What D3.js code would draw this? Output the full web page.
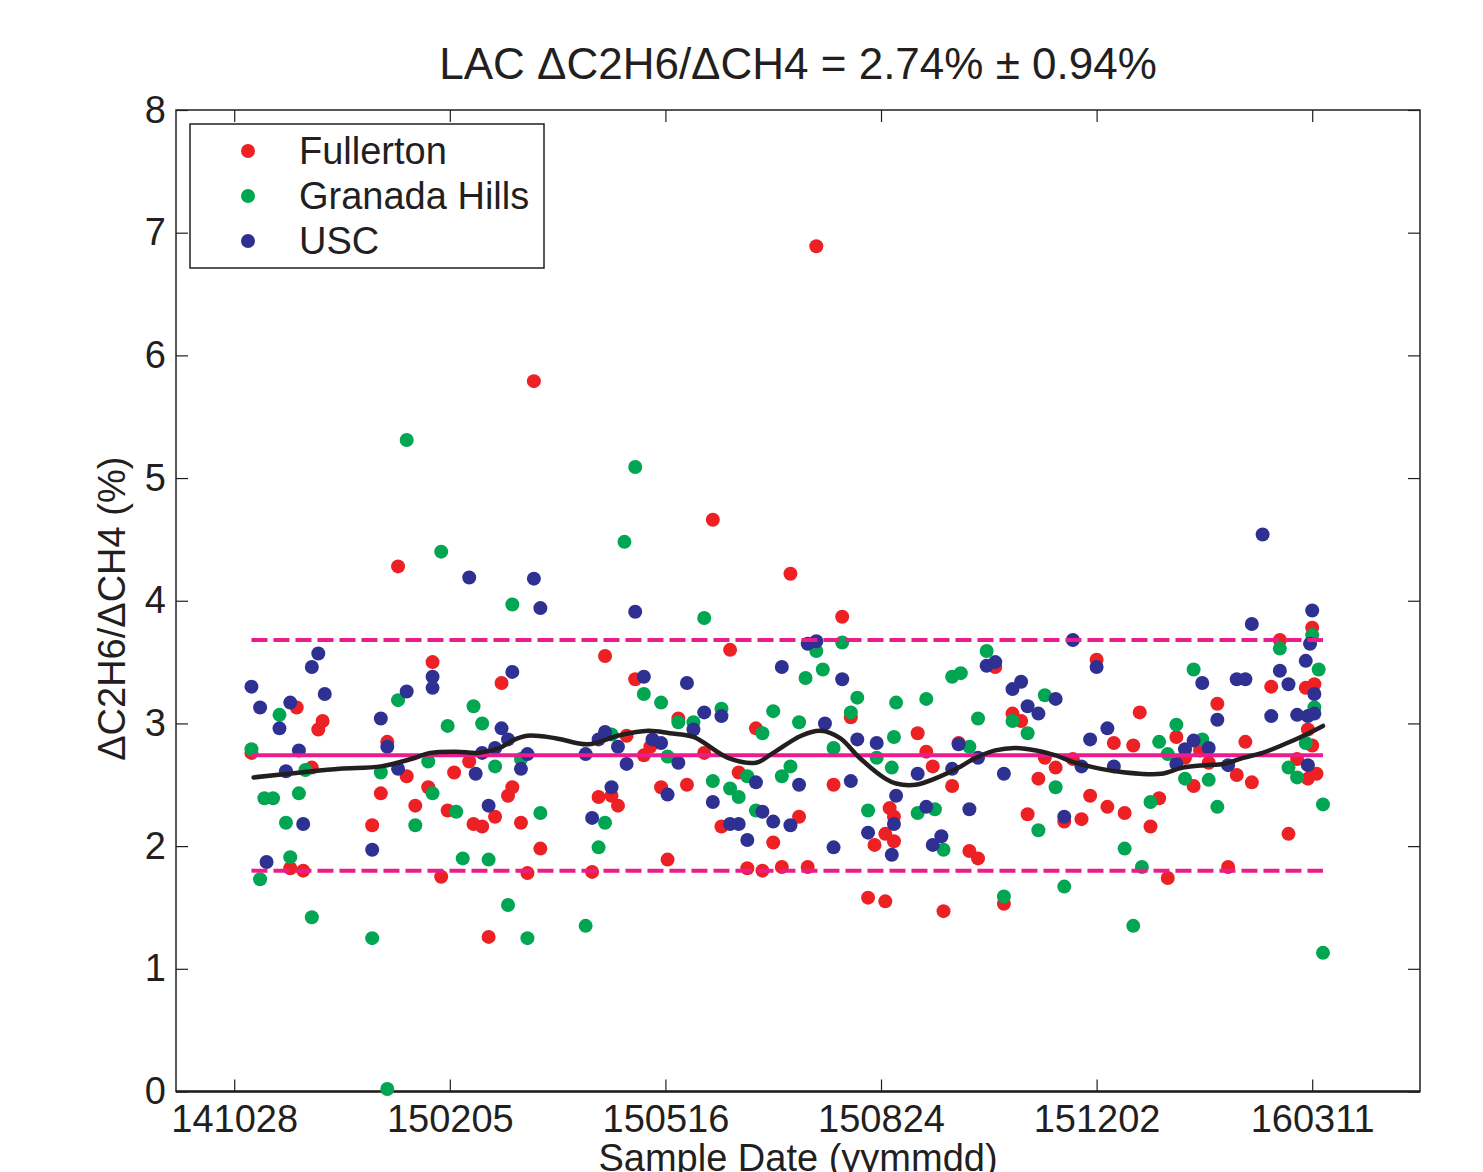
<!DOCTYPE html>
<html>
<head>
<meta charset="utf-8">
<script src="https://cdn.jsdelivr.net/npm/d3@7"></script>
<style>
  body { margin: 0; background: #fff; }
  svg { display: block; }
  text { font-family: "Liberation Sans", Arial, Helvetica, sans-serif; fill: #231f20; }
</style>
</head>
<body>
<svg id="chart" width="1483" height="1172"></svg>
<script>
// Sampling days are counted from 2014-10-28 (141028); ratios are ΔC2H6/ΔCH4 in %.
const seriesNames = ["Fullerton", "Granada Hills", "USC"];

const fullertonDay = [8,26,29,32,36,39,41,64,68,71,76,80,84,90,92,96,99,102,109,111,115,118,121,124,127,129,133,136,139,142,166,169,172,175,178,182,186,190,193,198,201,206,210,218,222,226,230,234,238,242,245,250,254,258,262,266,270,278,282,286,294,297,302,302,304,306,306,317,321,324,329,333,336,341,345,353,357,361,365,368,373,376,381,385,389,393,397,400,405,408,413,417,420,425,429,433,437,441,445,448,452,456,461,465,469,472,481,485,489,493,497,498,498,500,500,501,502];
const fullertonRatio = [2.76,1.82,3.13,1.80,2.64,2.95,3.02,2.17,2.43,2.85,4.28,2.57,2.33,2.48,3.50,1.75,2.29,2.60,2.69,2.18,2.16,1.26,2.24,3.33,2.41,2.48,2.19,1.78,5.79,1.98,1.79,2.40,3.55,2.41,2.33,2.90,3.36,2.74,2.81,2.48,1.89,3.04,2.50,2.76,4.66,2.16,3.60,2.60,1.82,2.96,1.80,2.03,1.83,4.22,2.24,1.83,6.89,2.50,3.87,3.05,1.58,2.01,1.55,2.10,2.31,2.24,2.04,2.92,2.77,2.65,1.47,2.49,2.84,1.96,1.90,3.46,1.53,3.08,3.02,2.26,2.55,2.72,2.64,2.20,2.71,2.22,2.41,3.52,2.32,2.84,2.27,2.82,3.09,2.16,2.39,1.74,2.89,2.72,2.49,2.78,2.68,3.16,1.83,2.58,2.85,2.52,3.30,3.68,2.10,2.71,3.29,2.95,2.55,2.82,3.78,3.32,2.59];

const granadaDay = [8,12,14,18,21,24,26,30,33,36,64,68,71,76,80,84,90,92,96,99,103,106,111,115,118,121,127,129,133,136,142,163,169,172,175,181,186,190,198,201,206,213,218,222,226,230,234,238,242,245,250,254,258,262,265,270,273,278,282,286,289,294,298,305,306,307,317,321,325,329,333,337,341,345,349,357,361,368,373,376,381,385,413,417,421,425,429,433,437,441,445,449,452,456,485,489,493,497,500,501,503,505,505];
const granadaRatio = [2.79,1.73,2.39,2.39,3.07,2.19,1.91,2.43,2.62,1.42,1.25,2.60,0.02,3.19,5.31,2.17,2.69,2.43,4.40,2.98,2.28,1.90,3.14,3.00,1.89,2.65,1.52,3.97,2.71,1.25,2.27,1.35,1.99,2.19,2.91,4.48,5.09,3.24,3.17,2.73,3.01,3.01,3.86,2.53,3.12,2.47,2.40,2.57,2.29,2.92,3.10,2.57,2.65,3.01,3.37,3.59,3.44,2.80,3.66,3.09,3.21,2.29,2.72,2.64,2.89,3.17,2.27,3.20,2.30,1.97,3.38,3.41,2.81,3.04,3.59,1.59,3.02,2.92,2.13,3.23,2.48,1.67,1.98,1.35,1.83,2.36,2.85,2.75,2.99,2.55,3.44,2.87,2.54,2.32,3.61,2.64,2.56,2.84,3.72,3.13,3.44,2.34,1.13];

const uscDay = [8,12,15,21,24,26,30,32,36,39,42,64,68,71,76,80,92,92,109,112,115,118,121,124,127,129,133,136,139,142,163,166,169,172,175,178,182,186,190,194,198,201,206,210,213,218,222,226,230,234,238,242,245,250,254,258,262,266,270,274,278,282,286,289,294,298,305,306,307,317,321,324,328,333,336,341,345,349,353,357,361,365,368,373,381,385,389,393,397,400,405,408,437,441,445,449,452,456,461,465,469,472,477,481,485,489,493,497,498,498,499,500,501,501];
const uscRatio = [3.30,3.13,1.87,2.96,2.61,3.17,2.78,2.18,3.46,3.57,3.24,1.97,3.04,2.81,2.63,3.26,3.38,3.29,4.19,2.59,2.76,2.33,2.80,2.96,2.87,3.42,2.63,2.75,4.18,3.94,2.75,2.23,2.87,2.93,2.48,2.81,2.67,3.91,3.38,2.87,2.84,2.42,2.68,3.33,2.95,3.09,2.36,3.06,2.18,2.18,2.05,2.52,2.28,2.20,3.46,2.17,2.50,3.65,3.67,3.00,1.99,3.36,2.53,2.87,2.11,2.84,1.93,2.18,2.41,2.59,2.32,2.01,2.08,2.63,2.83,2.30,2.72,3.47,3.50,2.59,3.28,3.34,3.14,3.08,3.20,2.24,3.68,2.65,2.87,3.46,2.96,2.65,2.67,2.79,2.86,3.33,2.80,3.03,2.66,3.36,3.36,3.81,4.54,3.06,3.43,3.32,3.07,3.51,2.66,3.06,3.65,3.92,3.24,3.08];

// Smoothed trend through all sites
const smoothDay = [9,31,49,68,82,91,103,113,123,129,136,149,164,178,192,202,213,229,242,250,263,272,281,290,302,307,316,325,335,344,353,362,372,381,390,402,409,420,430,440,450,459,468,477,487,496,505];
const smoothRatio = [2.56,2.60,2.63,2.65,2.71,2.76,2.77,2.76,2.80,2.86,2.90,2.88,2.83,2.90,2.94,2.92,2.89,2.72,2.68,2.76,2.90,2.94,2.88,2.72,2.55,2.51,2.50,2.55,2.63,2.72,2.78,2.80,2.78,2.74,2.68,2.63,2.61,2.59,2.59,2.64,2.66,2.67,2.72,2.76,2.83,2.90,2.98];

const meanRatio = 2.74;
const sdRatio = 0.94;

const xTickLabels = ["141028", "150205", "150516", "150824", "151202", "160311"];
const yTickValues = [0, 1, 2, 3, 4, 5, 6, 7, 8];

// ---- layout ----
const plot = { left: 176, right: 1420, top: 110, bottom: 1091.5 };
const colors = { red: "#ed2024", green: "#00a651", blue: "#2e3192", magenta: "#ec1c8c", ink: "#231f20" };
const seriesColors = [colors.red, colors.green, colors.blue];

const parseYMD = d3.utcParse("%y%m%d");
const origin = parseYMD("141028");
const dayToDate = d => d3.utcDay.offset(origin, d);

const x = d3.scaleUtc()
  .domain([parseYMD("141001"), parseYMD("160430")])
  .range([plot.left, plot.right]);
const y = d3.scaleLinear().domain([0, 8]).range([plot.bottom, plot.top]);

const svg = d3.select("#chart");

const series = [
  { name: seriesNames[0], color: seriesColors[0], days: fullertonDay, ratios: fullertonRatio },
  { name: seriesNames[1], color: seriesColors[1], days: granadaDay, ratios: granadaRatio },
  { name: seriesNames[2], color: seriesColors[2], days: uscDay, ratios: uscRatio }
];

const allDays = series.flatMap(s => s.days);
const [firstDay, lastDay] = d3.extent(allDays);

// ---- axes (ticks point inward on all four sides) ----
const xTicks = xTickLabels.map(parseYMD);
const fmt = d3.utcFormat("%y%m%d");

const gx = svg.append("g")
  .attr("transform", `translate(0,${plot.bottom})`)
  .call(d3.axisBottom(x).tickValues(xTicks).tickFormat(fmt).tickSizeInner(-12).tickSizeOuter(0).tickPadding(14));
const gxTop = svg.append("g")
  .attr("transform", `translate(0,${plot.top})`)
  .call(d3.axisTop(x).tickValues(xTicks).tickFormat("").tickSizeInner(-12).tickSizeOuter(0));
const gy = svg.append("g")
  .attr("transform", `translate(${plot.left},0)`)
  .call(d3.axisLeft(y).tickValues(yTickValues).tickFormat(d3.format("d")).tickSizeInner(-12).tickSizeOuter(0).tickPadding(10));
const gyRight = svg.append("g")
  .attr("transform", `translate(${plot.right},0)`)
  .call(d3.axisRight(y).tickValues(yTickValues).tickFormat("").tickSizeInner(-12).tickSizeOuter(0));

[gx, gxTop, gy, gyRight].forEach(g => {
  g.select(".domain").remove();
  g.selectAll(".tick line").attr("stroke", colors.ink).attr("stroke-width", 1.2);
  g.selectAll(".tick text").attr("font-size", 38).attr("fill", colors.ink)
    .style("font-family", '"Liberation Sans", Arial, sans-serif');
});

// plot frame
svg.append("rect")
  .attr("x", plot.left).attr("y", plot.top)
  .attr("width", plot.right - plot.left).attr("height", plot.bottom - plot.top)
  .attr("fill", "none").attr("stroke", colors.ink).attr("stroke-width", 1.5);
svg.append("line")
  .attr("x1", plot.left).attr("x2", plot.right)
  .attr("y1", plot.bottom).attr("y2", plot.bottom)
  .attr("stroke", colors.ink).attr("stroke-width", 2.5);

// ---- data points ----
const dotLayer = svg.append("g");
series.forEach(s => {
  dotLayer.append("g").selectAll("circle")
    .data(s.days.map((d, i) => ({ day: d, ratio: s.ratios[i] })))
    .join("circle")
    .attr("cx", d => x(dayToDate(d.day)))
    .attr("cy", d => y(d.ratio))
    .attr("r", 7)
    .attr("fill", s.color);
});

// ---- mean and ±1σ reference lines ----
const refLevels = [
  { v: meanRatio + sdRatio, dash: "16,6" },
  { v: meanRatio - sdRatio, dash: "16,6" },
  { v: meanRatio, dash: null }
];
refLevels.forEach(r => {
  svg.append("line")
    .attr("x1", x(dayToDate(firstDay))).attr("x2", x(dayToDate(lastDay)))
    .attr("y1", y(r.v)).attr("y2", y(r.v))
    .attr("stroke", colors.magenta)
    .attr("stroke-width", 4)
    .attr("stroke-dasharray", r.dash);
});

// ---- smoothed trend ----
const trend = d3.line()
  .x((d, i) => x(dayToDate(smoothDay[i])))
  .y(d => y(d))
  .curve(d3.curveCatmullRom.alpha(0.5));
svg.append("path")
  .attr("d", trend(smoothRatio))
  .attr("fill", "none")
  .attr("stroke", colors.ink)
  .attr("stroke-width", 4.5)
  .attr("stroke-linejoin", "round")
  .attr("stroke-linecap", "round");

// ---- legend ----
const legend = svg.append("g").attr("transform", "translate(190,124)");
legend.append("rect")
  .attr("width", 354).attr("height", 144)
  .attr("fill", "#fff").attr("stroke", colors.ink).attr("stroke-width", 1.5);
series.forEach((s, i) => {
  const cy = 27 + i * 45;
  legend.append("circle").attr("cx", 58).attr("cy", cy).attr("r", 7).attr("fill", s.color);
  legend.append("text").attr("x", 109).attr("y", cy).attr("dy", "0.35em")
    .attr("font-size", 38).text(s.name);
});

// ---- titles ----
const midX = (plot.left + plot.right) / 2;
svg.append("text")
  .attr("x", midX).attr("y", 79)
  .attr("text-anchor", "middle")
  .attr("font-size", 44)
  .text(`LAC ΔC2H6/ΔCH4 = ${meanRatio.toFixed(2)}% ± ${sdRatio.toFixed(2)}%`);

svg.append("text")
  .attr("x", midX).attr("y", 1171)
  .attr("text-anchor", "middle")
  .attr("font-size", 38)
  .text("Sample Date (yymmdd)");

svg.append("text")
  .attr("transform", `translate(125,${(plot.top + plot.bottom) / 2 + 8}) rotate(-90)`)
  .attr("text-anchor", "middle")
  .attr("font-size", 38)
  .text("ΔC2H6/ΔCH4 (%)");
</script>
</body>
</html>
